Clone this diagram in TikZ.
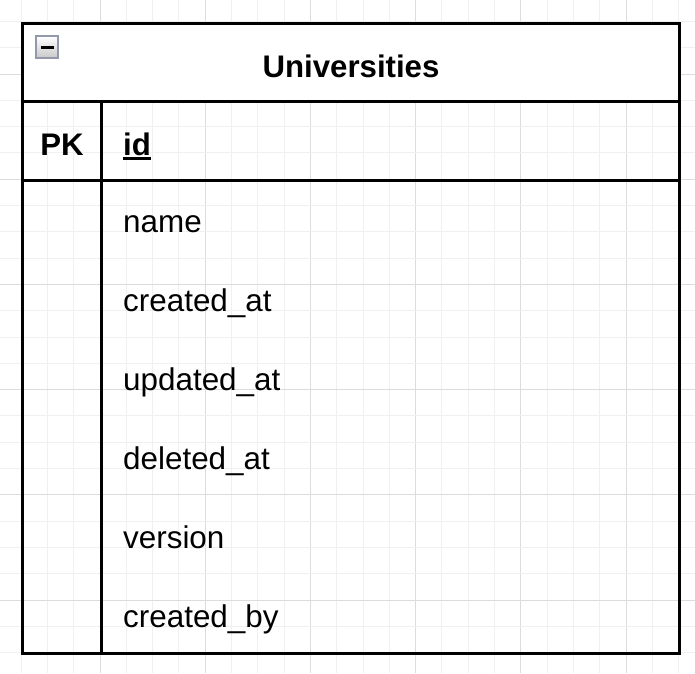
\documentclass[tikz,border=0pt]{standalone}
\usepackage{fontspec}
\setmainfont{Liberation Sans}
\begin{document}
\begin{tikzpicture}[x=1pt,y=-1pt,
  minorgrid/.style={draw={rgb,255:red,240;green,240;blue,240},line width=1pt},
  majorgrid/.style={draw={rgb,255:red,220;green,220;blue,220},line width=1pt},
  tline/.style={draw=black,line width=3pt},
  fieldtxt/.style={anchor=base west,inner sep=0pt,font=\fontsize{31.4}{31.4}\selectfont},
  boldtxt/.style={anchor=base,inner sep=0pt,font=\fontsize{31.2}{31.2}\selectfont\bfseries}]
\useasboundingbox (0,0) rectangle (695,673);
\fill[white] (0,0) rectangle (695,673);
% grid
\foreach \i in {0,...,27}{
  \pgfmathsetmacro{\gx}{-5.2+26.3*\i}
  \pgfmathtruncatemacro{\m}{mod(\i,4)}
  \ifnum\m=0 \draw[majorgrid] (\gx,0) -- (\gx,673); \else \draw[minorgrid] (\gx,0) -- (\gx,673);\fi
}
\foreach \i in {0,...,26}{
  \pgfmathsetmacro{\gy}{-4.9+26.3*\i}
  \pgfmathtruncatemacro{\m}{mod(\i,4)}
  \ifnum\m=3 \draw[majorgrid] (0,\gy) -- (695,\gy); \else \draw[minorgrid] (0,\gy) -- (695,\gy);\fi
}
% header fill
\fill[white] (22,23) rectangle (679,101);
% table lines
\draw[tline] (22,23) rectangle (679,653);
\draw[tline] (22,101) -- (679,101);
\draw[tline] (22,180) -- (679,180);
\draw[tline] (101,101) -- (101,653);
% collapse icon
\shade[top color=white,bottom color={rgb,255:red,200;green,200;blue,200},draw={rgb,255:red,145;green,153;blue,171},line width=1.5pt] (36,36) rectangle (58,58);
\draw[line width=3pt] (40.5,47) -- (53.5,47);
% texts
\node[boldtxt] (title) at (351,77) {Universities};
\node[boldtxt] (pk) at (62,155.5) {PK};
\node[fieldtxt,font=\fontsize{31.2}{31.2}\selectfont\bfseries] (id) at (123,155.5) {id};
\draw[line width=2.5pt] ([yshift=-3pt]id.base west) -- ([yshift=-3pt]id.base east);
\node[fieldtxt] (f1) at (123,232.5) {name};
\node[fieldtxt] (f2) at (123,311.5) {created\_at};
\node[fieldtxt] (f3) at (123,390.5) {updated\_at};
\node[fieldtxt] (f4) at (123,469.5) {deleted\_at};
\node[fieldtxt] (f5) at (123,548) {version};
\node[fieldtxt] (f6) at (123,627) {created\_by};
\end{tikzpicture}
\end{document}
